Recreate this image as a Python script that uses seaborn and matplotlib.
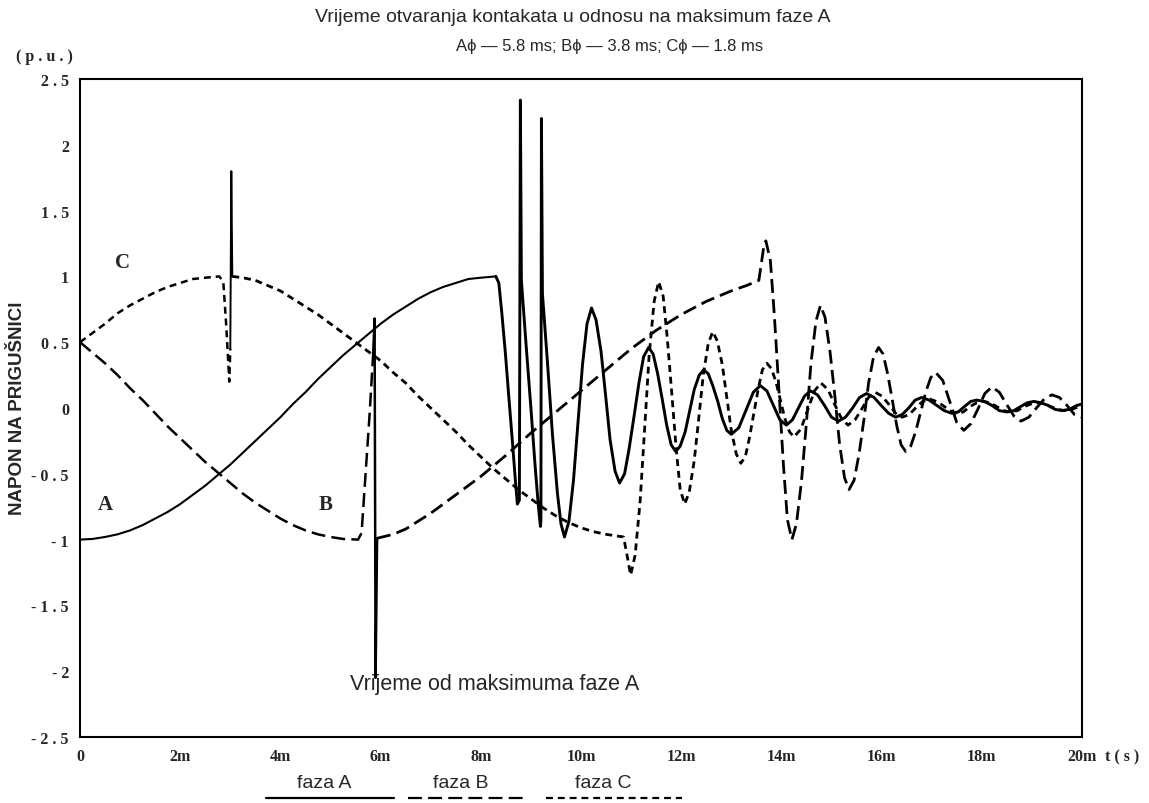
import matplotlib
matplotlib.use("Agg")
import matplotlib.pyplot as plt
from matplotlib.lines import Line2D
import seaborn as sns

# ---- data (t in ms, voltage in p.u.) ----
# phase A (solid)
a1_t = [0, 0.25, 0.5, 0.75, 1, 1.25, 1.5, 1.75, 2, 2.25, 2.5, 2.75, 3, 3.25, 3.5, 3.75,
        4, 4.25, 4.5, 4.75, 5, 5.25, 5.5, 5.75, 6, 6.25, 6.5, 6.75, 7, 7.25, 7.5,
        7.75, 8, 8.3]
a1_v = [-1.0, -0.995, -0.98, -0.96, -0.93, -0.89, -0.84, -0.79, -0.73, -0.66, -0.59,
        -0.51, -0.43, -0.34, -0.25, -0.16, -0.07, 0.03, 0.12, 0.22, 0.31, 0.4, 0.48,
        0.56, 0.64, 0.71, 0.77, 0.83, 0.88, 0.92, 0.95, 0.98, 0.99, 1.0]

a2_t = [8.3, 8.36, 8.42, 8.49, 8.56, 8.63, 8.69, 8.73, 8.77, 8.79, 8.81, 8.9, 9.0,
        9.08, 9.15, 9.19, 9.2, 9.21, 9.23, 9.33, 9.43, 9.53, 9.6, 9.67,
        9.76, 9.85, 9.94, 10.03, 10.12, 10.21,
        10.30, 10.40, 10.49, 10.58, 10.68, 10.77,
        10.87, 10.96, 11.06, 11.16, 11.25, 11.35,
        11.44, 11.53, 11.62, 11.71, 11.80, 11.89,
        11.98, 12.08, 12.17, 12.26, 12.36, 12.45,
        12.54, 12.63, 12.73, 12.82, 12.91, 13.0,
        13.15, 13.29, 13.44, 13.58,
        13.71, 13.84, 13.97, 14.1,
        14.22, 14.34, 14.46, 14.58,
        14.72, 14.86, 15.0, 15.14,
        15.28, 15.42, 15.56, 15.7,
        15.85, 15.99, 16.14, 16.28,
        16.41, 16.54, 16.67, 16.8,
        16.95, 17.1, 17.25, 17.4,
        17.53, 17.65, 17.78, 17.9,
        18.05, 18.2, 18.35, 18.5,
        18.64, 18.77, 18.91, 19.04,
        19.18, 19.32, 19.46, 19.6,
        19.75, 19.9, 20.0]
a2_v = [1.0, 0.95, 0.72, 0.42, 0.08, -0.25, -0.55, -0.73, -0.7, 2.34, 0.97, 0.5, 0.0,
        -0.42, -0.75, -0.9, -0.85, 2.2, 0.87, 0.35, -0.2, -0.65, -0.88, -0.98,
        -0.86, -0.55, -0.11, 0.33, 0.64, 0.76,
        0.67, 0.43, 0.1, -0.24, -0.48, -0.57,
        -0.5, -0.31, -0.06, 0.2, 0.39, 0.46,
        0.41, 0.26, 0.07, -0.13, -0.28, -0.33,
        -0.29, -0.18, -0.02, 0.14, 0.25, 0.29,
        0.26, 0.17, 0.05, -0.08, -0.17, -0.2,
        -0.15, -0.02, 0.12, 0.17,
        0.13, 0.02, -0.09, -0.13,
        -0.09, 0.0, 0.09, 0.13,
        0.1, 0.02, -0.07, -0.1,
        -0.07, 0.0, 0.08, 0.11,
        0.08, 0.02, -0.04, -0.07,
        -0.05, 0.0, 0.06, 0.08,
        0.06, 0.02, -0.02, -0.04,
        -0.03, 0.01, 0.05, 0.06,
        0.05, 0.02, -0.02, -0.03,
        -0.02, 0.01, 0.04, 0.05,
        0.04, 0.02, -0.01, -0.02,
        -0.01, 0.02, 0.03]

# phase B (long dashes)
b1_t = [0, 0.25, 0.5, 0.75, 1, 1.25, 1.5, 1.75, 2, 2.25, 2.5, 2.75, 3, 3.25, 3.5, 3.75,
        4, 4.25, 4.5, 4.75, 5, 5.25, 5.55, 5.62, 5.7, 5.78, 5.85]
b1_v = [0.5, 0.42, 0.34, 0.25, 0.15, 0.06, -0.04, -0.14, -0.23, -0.32, -0.41, -0.49,
        -0.57, -0.65, -0.72, -0.78, -0.84, -0.89, -0.93, -0.96, -0.98, -0.995, -1.0,
        -0.95, -0.5, -0.05, 0.4]
b_spike_t = [5.85, 5.88, 5.9, 5.93]
b_spike_v = [0.4, 0.68, -2.05, -0.99]
b2_t = [5.93, 6.25, 6.5, 6.75, 7.0, 7.5, 8.0, 8.5, 9.0, 9.5, 10.0, 10.5, 11.0, 11.5,
        12.0, 12.5, 13.0, 13.3, 13.55, 13.6, 13.65, 13.69,
        13.78, 13.86, 13.95, 14.04, 14.12, 14.21,
        14.30, 14.40, 14.50, 14.59, 14.69, 14.78,
        14.87, 14.97, 15.07, 15.16, 15.26, 15.35,
        15.45, 15.55, 15.65, 15.74, 15.84, 15.94,
        16.03, 16.12, 16.21, 16.30, 16.39, 16.48,
        16.58, 16.68, 16.78, 16.88, 16.98, 17.08,
        17.22, 17.36, 17.50, 17.64,
        17.78, 17.92, 18.06, 18.2,
        18.35, 18.49, 18.64, 18.78,
        18.94, 19.09, 19.25, 19.4,
        19.55, 19.7, 19.85, 20.0]
b2_v = [-0.99, -0.96, -0.92, -0.86, -0.8, -0.66, -0.52, -0.36, -0.19, -0.03, 0.13,
        0.29, 0.45, 0.59, 0.71, 0.81, 0.89, 0.93, 0.97, 1.1, 1.23, 1.27,
        1.12, 0.7, 0.14, -0.43, -0.85, -1.0,
        -0.88, -0.56, -0.11, 0.34, 0.66, 0.78,
        0.69, 0.43, 0.08, -0.27, -0.53, -0.62,
        -0.55, -0.35, -0.08, 0.19, 0.39, 0.46,
        0.41, 0.26, 0.07, -0.13, -0.28, -0.33,
        -0.29, -0.18, -0.03, 0.12, 0.23, 0.27,
        0.21, 0.05, -0.11, -0.17,
        -0.12, -0.01, 0.11, 0.16,
        0.12, 0.03, -0.06, -0.1,
        -0.07, 0.0, 0.07, 0.1,
        0.08, 0.02, -0.05, -0.07]

# phase C (short dashes)
c1_t = [0, 0.25, 0.5, 0.75, 1, 1.25, 1.5, 1.75, 2, 2.25, 2.5, 2.78, 2.86, 2.92, 2.98, 3.0]
c1_v = [0.5, 0.57, 0.64, 0.72, 0.78, 0.83, 0.88, 0.92, 0.95, 0.98, 0.99, 1.0, 0.96,
        0.62, 0.2, 0.45]
c_spike_t = [3.0, 3.02, 3.04]
c_spike_v = [0.45, 1.8, 1.0]
c2_t = [3.04, 3.25, 3.5, 3.75, 4, 4.25, 4.5, 4.75, 5, 5.25, 5.5, 5.75, 6, 6.25, 6.5,
        6.75, 7, 7.25, 7.5, 7.75, 8, 8.25, 8.5, 8.75, 9, 9.25, 9.5, 9.75, 10, 10.25,
        10.5, 10.85, 10.92, 10.99,
        11.08, 11.18, 11.27, 11.36, 11.46, 11.55,
        11.64, 11.72, 11.81, 11.90, 11.98, 12.07,
        12.16, 12.26, 12.35, 12.44, 12.54, 12.63,
        12.72, 12.82, 12.91, 13.0, 13.10, 13.19,
        13.28, 13.36, 13.45, 13.54, 13.62, 13.71,
        13.80, 13.89, 13.98, 14.07, 14.16, 14.25,
        14.39, 14.52, 14.66, 14.79,
        14.93, 15.06, 15.20, 15.33,
        15.47, 15.60, 15.74, 15.87,
        16.01, 16.14, 16.28, 16.41,
        16.55, 16.68, 16.82, 16.95,
        17.09, 17.22, 17.36, 17.49,
        17.63, 17.76, 17.90, 18.03,
        18.17, 18.30, 18.44, 18.57,
        18.71, 18.84, 18.98, 19.11,
        19.25, 19.38, 19.52, 19.65,
        19.8, 20.0]
c2_v = [1.0, 0.99, 0.97, 0.93, 0.89, 0.83, 0.77, 0.71, 0.64, 0.57, 0.5, 0.43, 0.36,
        0.27, 0.19, 0.09, 0.0, -0.09, -0.18, -0.28, -0.37, -0.46, -0.54, -0.62, -0.69,
        -0.76, -0.82, -0.87, -0.91, -0.94, -0.96, -0.98, -1.12, -1.27,
        -1.12, -0.71, -0.16, 0.4, 0.81, 0.96,
        0.85, 0.54, 0.12, -0.31, -0.62, -0.73,
        -0.64, -0.4, -0.08, 0.25, 0.49, 0.58,
        0.51, 0.33, 0.08, -0.17, -0.35, -0.42,
        -0.37, -0.23, -0.04, 0.15, 0.29, 0.34,
        0.3, 0.2, 0.06, -0.08, -0.18, -0.22,
        -0.16, -0.02, 0.13, 0.19,
        0.14, 0.03, -0.08, -0.13,
        -0.09, -0.01, 0.08, 0.12,
        0.09, 0.03, -0.04, -0.07,
        -0.05, 0.0, 0.05, 0.07,
        0.05, 0.02, -0.02, -0.04,
        -0.03, 0.01, 0.04, 0.05,
        0.04, 0.01, -0.02, -0.03,
        -0.02, 0.01, 0.03, 0.04,
        0.03, 0.01, -0.01, -0.02,
        -0.01, 0.02]

x_ticks = [0, 2, 4, 6, 8, 10, 12, 14, 16, 18, 20]
x_labels = ['0', '2m', '4m', '6m', '8m', '10m', '12m', '14m', '16m', '18m', '20m']
y_ticks = [-2.5, -2, -1.5, -1, -0.5, 0, 0.5, 1, 1.5, 2, 2.5]
y_labels = ['- 2 . 5', '- 2', '- 1 . 5', '- 1', '- 0 . 5', '0', '0 . 5', '1',
            '1 . 5', '2', '2 . 5']

SOLID = '-'
LONG = (0, (10, 4.5))
SHORT = (0, (5, 3.5))

sns.set_style('white')
plt.rcParams['lines.scale_dashes'] = False
sans = ['Liberation Sans', 'DejaVu Sans']
serif = ['Liberation Serif', 'DejaVu Serif']

fig = plt.figure(figsize=(11.49, 8.04), dpi=100)
ax = fig.add_axes([80 / 1149, 1 - 738 / 804, 1002 / 1149, 658 / 804])


def seg(t, v, ls, lw):
    sns.lineplot(x=t, y=v, ax=ax, sort=False, estimator=None, color='black',
                 linestyle=ls, linewidth=lw, solid_joinstyle='round',
                 dash_capstyle='butt')


seg(a1_t, a1_v, SOLID, 1.5)
seg(a2_t, a2_v, SOLID, 2.1)
seg(b1_t, b1_v, LONG, 1.8)
seg(b_spike_t, b_spike_v, SOLID, 1.8)
seg(b2_t, b2_v, LONG, 2.0)
seg(c1_t, c1_v, SHORT, 1.8)
seg(c_spike_t, c_spike_v, SOLID, 1.4)
seg(c2_t, c2_v, SHORT, 2.0)

ax.set_xlim(0, 20)
ax.set_ylim(-2.5, 2.5)
ax.set_xticks(x_ticks)
ax.set_xticklabels(x_labels, family=serif, fontweight='bold', fontsize=11.5)
ax.set_yticks(y_ticks)
ax.set_yticklabels(y_labels, family=serif, fontweight='bold', fontsize=11.5)
ax.tick_params(axis='x', direction='out', length=6, width=1.4, pad=2)
ax.tick_params(axis='y', direction='out', length=7, width=1.4, pad=1)
for s in ax.spines.values():
    s.set_linewidth(1.5)
    s.set_color('black')
ax.set_xlabel('')
ax.set_ylabel('')

# curve labels
ax.text(0.5, -0.73, 'A', family=serif, fontweight='bold', fontsize=15,
        ha='center', va='center')
ax.text(4.9, -0.73, 'B', family=serif, fontweight='bold', fontsize=15,
        ha='center', va='center')
ax.text(0.84, 1.11, 'C', family=serif, fontweight='bold', fontsize=15,
        ha='center', va='center')

W, H = 1149, 804


def ftext(px, py, s, **kw):
    fig.text(px / W, 1 - py / H, s, **kw)


ftext(573, 18, 'Vrijeme otvaranja kontakata u odnosu na maksimum faze A',
      family=sans, fontsize=14, ha='center', va='center')
ftext(610, 46, 'A\u03d5 \u2014 5.8 ms; B\u03d5 \u2014 3.8 ms; C\u03d5 \u2014 1.8 ms',
      family=sans, fontsize=12, ha='center', va='center')
ftext(44, 57, '( p . u . )', family=serif, fontweight='bold', fontsize=11.5,
      ha='center', va='center')
ftext(1122, 757, 't ( s )', family=serif, fontweight='bold', fontsize=11.5,
      ha='center', va='center')
ftext(18, 408, 'NAPON NA PRIGUŠNICI', family=sans, fontweight='bold',
      fontsize=13.5, rotation=90, ha='center', va='center')
ftext(495, 685, 'Vrijeme od maksimuma faze A', family=sans, fontsize=15.5,
      ha='center', va='center')

# legend under the axis
for label, cx, x0, x1, ls in [('faza A', 324, 266, 394, SOLID),
                               ('faza B', 461, 408, 526, LONG),
                               ('faza C', 603, 546, 682, SHORT)]:
    ftext(cx, 784, label, family=sans, fontsize=14, ha='center', va='center')
    fig.add_artist(Line2D([x0 / W, x1 / W], [1 - 799 / H, 1 - 799 / H],
                          color='black', linewidth=1.6, linestyle=ls,
                          transform=fig.transFigure))

fig.savefig('out.png', dpi=100)
